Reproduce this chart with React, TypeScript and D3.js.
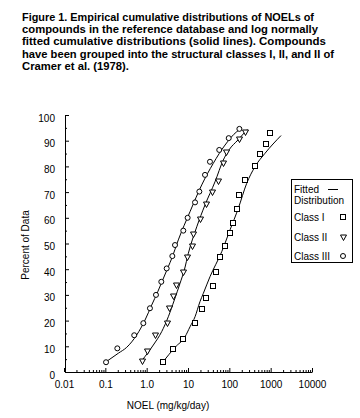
import { useEffect, useRef } from 'react';
import * as d3 from 'd3';

// NOEL values (mg/kg/day) and cumulative percent
const class1Noel = [2.44, 4.42, 7.45, 14.8, 21.4, 26.8, 39.6, 47.6, 59.5, 78.6, 104, 125, 156, 175, 239, 418, 552, 772, 964];
const class1Pct = [3.8, 8.8, 12.8, 19.1, 24.4, 28.7, 33.5, 38.8, 44.6, 49, 54, 57.9, 63.3, 68.9, 74.7, 80.3, 84.7, 88.7, 92.9];

const class2Noel = [0.757, 1.04, 1.62, 3.16, 3.41, 4.27, 5.13, 7.45, 9.64, 12.3, 13.5, 19.5, 27.3, 37.4, 52.4, 69.2, 83.2, 175, 239];
const class2Pct = [4.3, 8.3, 14.4, 19.2, 24.8, 29.6, 33.9, 39, 44.9, 49, 53.6, 59.7, 65.4, 69.9, 74.4, 81.2, 85.5, 90.5, 93.5];

const class3Noel = [0.104, 0.195, 0.5, 0.83, 1.2, 1.68, 2.26, 3.05, 4.18, 4.85, 7.7, 9.8, 14.8, 18.8, 25.8, 34, 57, 96.6, 175];
const class3Pct = [3.8, 9.2, 14.3, 19, 24.8, 30, 35.1, 40.3, 45.1, 49.4, 55, 60, 66, 70.2, 76.7, 81.8, 86.4, 91, 94.6];

// fitted distributions
const fit1Noel = [2.5, 4.85, 8.47, 11.2, 14.8, 19.5, 23.5, 34.1, 65.4, 104, 165, 263, 418, 730, 1780];
const fit1Pct = [4, 9.6, 13.7, 17.6, 21.5, 27.4, 30.6, 37.1, 46.8, 55.3, 63.7, 73.4, 79.9, 85.1, 92];

const fit2Noel = [0.77, 1.45, 2.31, 3.34, 4.67, 6.41, 8.15, 10.2, 16.3, 25.8, 45, 71.5, 98, 162, 272];
const fit2Pct = [4.5, 10.5, 15.7, 21.5, 28, 34.5, 39.7, 46.2, 56.5, 65, 74, 82.5, 86.4, 90.3, 94.4];

const fit3Noel = [0.105, 0.206, 0.329, 0.574, 0.912, 1.32, 1.85, 2.44, 3.34, 4.04, 5.83, 11.2, 21.5, 40.9, 78.6, 151, 200];
const fit3Pct = [4, 7.3, 9.6, 14.4, 20.2, 26, 31.2, 35.8, 41, 44.2, 51.4, 62.4, 72.8, 81.2, 88.3, 93.5, 94.8];

const xMajor = [0.01, 0.1, 1, 10, 100, 1000, 10000];
const xTickLabels = ['0.01', '0.1', '1.0', '10', '100', '1000', '10000'];
const yMajor = [0, 10, 20, 30, 40, 50, 60, 70, 80, 90, 100];

const titleLines = [
  'Figure 1. Empirical cumulative distributions of NOELs of',
  'compounds in the reference database and log normally',
  'fitted cumulative distributions (solid lines). Compounds',
  'have been grouped into the structural classes I, II, and II of',
  'Cramer et al. (1978).',
];
const titleWidths = [292, 296, 304, 312, 107];

const legendLabels = ['Class I', 'Class II', 'Class III'];

const font = 'Liberation Sans, Arial, sans-serif';

function drawMarker(g, kind, cx, cy) {
  if (kind === 'square') {
    g.append('rect').attr('x', Math.round(cx) - 2.5).attr('y', Math.round(cy) - 2.5)
      .attr('width', 5).attr('height', 5)
      .attr('fill', 'white').attr('stroke', 'black');
  } else if (kind === 'tri') {
    const x0 = Math.round(cx) + 0.5, y0 = Math.round(cy) + 0.5;
    g.append('path')
      .attr('d', `M${x0 - 3},${y0 - 2.5}L${x0 + 3},${y0 - 2.5}L${x0},${y0 + 3}Z`)
      .attr('fill', 'white').attr('stroke', 'black');
  } else {
    g.append('circle').attr('cx', cx).attr('cy', cy).attr('r', 2.5)
      .attr('fill', 'white').attr('stroke', 'black');
  }
}

function App() {
  const ref = useRef(null);
  useEffect(() => {
    const svg = d3.select(ref.current);
    svg.selectAll('*').remove();

    const x = d3.scaleLog().domain([0.01, 10000]).range([64, 312]);
    const y = d3.scaleLinear().domain([0, 100]).range([372, 115]);

    // title
    const t = svg.append('g');
    titleLines.forEach((line, i) => {
      t.append('text').attr('x', 22).attr('y', 21 + i * 12.2)
        .attr('font-family', font).attr('font-weight', 'bold').attr('font-size', 11.5)
        .attr('textLength', titleWidths[i]).attr('lengthAdjust', 'spacingAndGlyphs')
        .text(line);
    });

    // x axis: minor ticks then decades with labels
    const minor = [];
    for (let d = 0; d < 6; d++) {
      for (let k = 2; k <= 9; k++) minor.push(k * xMajor[d]);
    }
    const xMinorAxis = d3.axisBottom(x).tickValues(minor).tickSizeInner(-2).tickSizeOuter(0).tickFormat(() => '');
    const xAxis = d3.axisBottom(x).tickValues(xMajor).tickSizeInner(-4).tickSizeOuter(0).tickPadding(9)
      .tickFormat((d, i) => xTickLabels[i]);
    const gx = svg.append('g').attr('transform', 'translate(0,372)');
    gx.call(xMinorAxis);
    const gx2 = svg.append('g').attr('transform', 'translate(0,372)');
    gx2.call(xAxis);
    gx2.select('.domain').attr('d', `M65.5,0.5H312.5`);
    gx.select('.domain').remove();

    // y axis
    const yMinorAxis = d3.axisLeft(y).tickValues(d3.range(5, 100, 10)).tickSizeInner(-2).tickSizeOuter(0).tickFormat(() => '');
    const yAxis = d3.axisLeft(y).tickValues(yMajor).tickSizeInner(-4).tickSizeOuter(0).tickPadding(10);
    const gy = svg.append('g').attr('transform', 'translate(65,0)');
    gy.call(yMinorAxis);
    gy.select('.domain').remove();
    const gy2 = svg.append('g').attr('transform', 'translate(65,0)');
    gy2.call(yAxis);
    gy2.selectAll('text').attr('dy', '0.6em');

    svg.selectAll('.tick text').attr('font-family', font).attr('font-size', 10).attr('fill', 'black');
    svg.selectAll('.domain, .tick line').attr('stroke', 'black');

    // axis titles
    svg.append('text').attr('x', 168).attr('y', 409).attr('text-anchor', 'middle')
      .attr('font-family', font).attr('font-size', 10).text('NOEL (mg/kg/day)');
    svg.append('text').attr('transform', 'translate(29,245) rotate(-90)').attr('text-anchor', 'middle')
      .attr('font-family', font).attr('font-size', 10).text('Percent of Data');

    // fitted lines
    const line = d3.line().x((d) => x(d[0])).y((d) => y(d[1])).curve(d3.curveMonotoneX);
    const fits = [[fit1Noel, fit1Pct], [fit2Noel, fit2Pct], [fit3Noel, fit3Pct]];
    fits.forEach(([xs, ps]) => {
      svg.append('path').datum(xs.map((v, i) => [v, ps[i]]))
        .attr('d', line).attr('fill', 'none').attr('stroke', 'black').attr('stroke-width', 1);
    });

    // empirical points
    const pts = svg.append('g');
    const series = [[class1Noel, class1Pct, 'square'], [class2Noel, class2Pct, 'tri'], [class3Noel, class3Pct, 'circle']];
    series.forEach(([xs, ps, kind]) => {
      xs.forEach((v, i) => drawMarker(pts, kind, x(v), y(ps[i])));
    });

    // legend
    const lg = svg.append('g');
    lg.append('rect').attr('x', 291.5).attr('y', 179.5).attr('width', 61).attr('height', 83)
      .attr('fill', 'white').attr('stroke', 'black');
    lg.append('text').attr('x', 294).attr('y', 193).attr('font-family', font).attr('font-size', 10).text('Fitted');
    lg.append('line').attr('x1', 328).attr('x2', 338).attr('y1', 189.5).attr('y2', 189.5).attr('stroke', 'black');
    lg.append('text').attr('x', 294).attr('y', 204).attr('font-family', font).attr('font-size', 10).text('Distribution');
    const kinds = ['square', 'tri', 'circle'];
    const rowY = [217, 237, 256];
    legendLabels.forEach((lab, i) => {
      lg.append('text').attr('x', 294).attr('y', rowY[i] + 3.5).attr('font-family', font).attr('font-size', 10).text(lab);
      drawMarker(lg, kinds[i], 343, rowY[i]);
    });
  }, []);

  return (
    <svg ref={ref} width={360} height={418} style={{ position: 'absolute', left: 0, top: 0, background: 'white' }} />
  );
}

export default App;
